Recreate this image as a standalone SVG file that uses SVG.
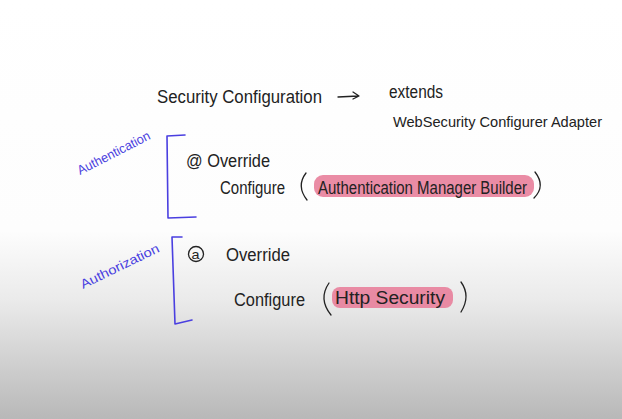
<svg xmlns="http://www.w3.org/2000/svg" width="622" height="419" viewBox="0 0 622 419">
<defs>
<linearGradient id="bg" x1="0" y1="0" x2="0" y2="1">
<stop offset="0" stop-color="#ffffff"/>
<stop offset="0.55" stop-color="#fdfdfd"/>
<stop offset="0.72" stop-color="#eaeaea"/>
<stop offset="1" stop-color="#b8b8b8"/>
</linearGradient>
<style>
.t{font-family:"Liberation Sans","DejaVu Sans",sans-serif;font-size:17.5px;fill:#222}
.b{font-family:"Liberation Sans","DejaVu Sans",sans-serif;font-size:13px;fill:#4a3fe0}
.ink{fill:none;stroke:#222;stroke-width:1.3;stroke-linecap:round;stroke-linejoin:round}
.br{fill:none;stroke:#4a3fe0;stroke-width:1.6;stroke-linecap:round;stroke-linejoin:round}
.hl{fill:#e8809b;opacity:0.9}
</style>
</defs>
<rect width="622" height="419" fill="url(#bg)"/>

<g id="title">
<text class="t" x="157" y="103" textLength="165" lengthAdjust="spacingAndGlyphs">Security Configuration</text>
<path class="ink" d="M338 97 L358 96 M353 92 L359 96 L353 99"/>
<text class="t" x="389" y="98" textLength="54" lengthAdjust="spacingAndGlyphs">extends</text>
<text class="t" x="393" y="127" style="font-size:14.5px" textLength="209" lengthAdjust="spacingAndGlyphs">WebSecurity Configurer Adapter</text>
</g>

<g id="authentication">
<text class="b" transform="translate(80,175) rotate(-27)" textLength="80" lengthAdjust="spacingAndGlyphs">Authentication</text>
<path class="br" d="M185 135 L167 136 L168 218 L196 217"/>
<text class="t" x="186" y="167" textLength="84" lengthAdjust="spacingAndGlyphs">@ Override</text>
<text class="t" x="220" y="194" textLength="65" lengthAdjust="spacingAndGlyphs">Configure</text>
<path class="ink" d="M306 173 Q296 186 307 200"/>
<rect class="hl" x="314" y="175" width="220" height="22" rx="9"/>
<text class="t" x="318" y="194" textLength="209" lengthAdjust="spacingAndGlyphs">Authentication Manager Builder</text>
<path class="ink" d="M535 172 Q546 186 534 198"/>
</g>

<g id="authorization">
<text class="b" transform="translate(83,289) rotate(-26)" textLength="86" lengthAdjust="spacingAndGlyphs">Authorization</text>
<path class="br" d="M182 237 L172 237 L175 324 L192 320"/>
<circle class="ink" cx="196" cy="254" r="7.5"/>
<text class="t" x="191.5" y="258.5" style="font-size:13px" textLength="8" lengthAdjust="spacingAndGlyphs">a</text>
<text class="t" x="226" y="261" textLength="64" lengthAdjust="spacingAndGlyphs">Override</text>
<text class="t" x="234" y="306" textLength="71" lengthAdjust="spacingAndGlyphs">Configure</text>
<path class="ink" d="M329 283 Q318 299 331 315"/>
<rect class="hl" x="332" y="287" width="121" height="21" rx="8"/>
<text class="t" x="335" y="304" textLength="110" lengthAdjust="spacingAndGlyphs">Http Security</text>
<path class="ink" d="M461 282 Q471 296 461 312"/>
</g>
</svg>
